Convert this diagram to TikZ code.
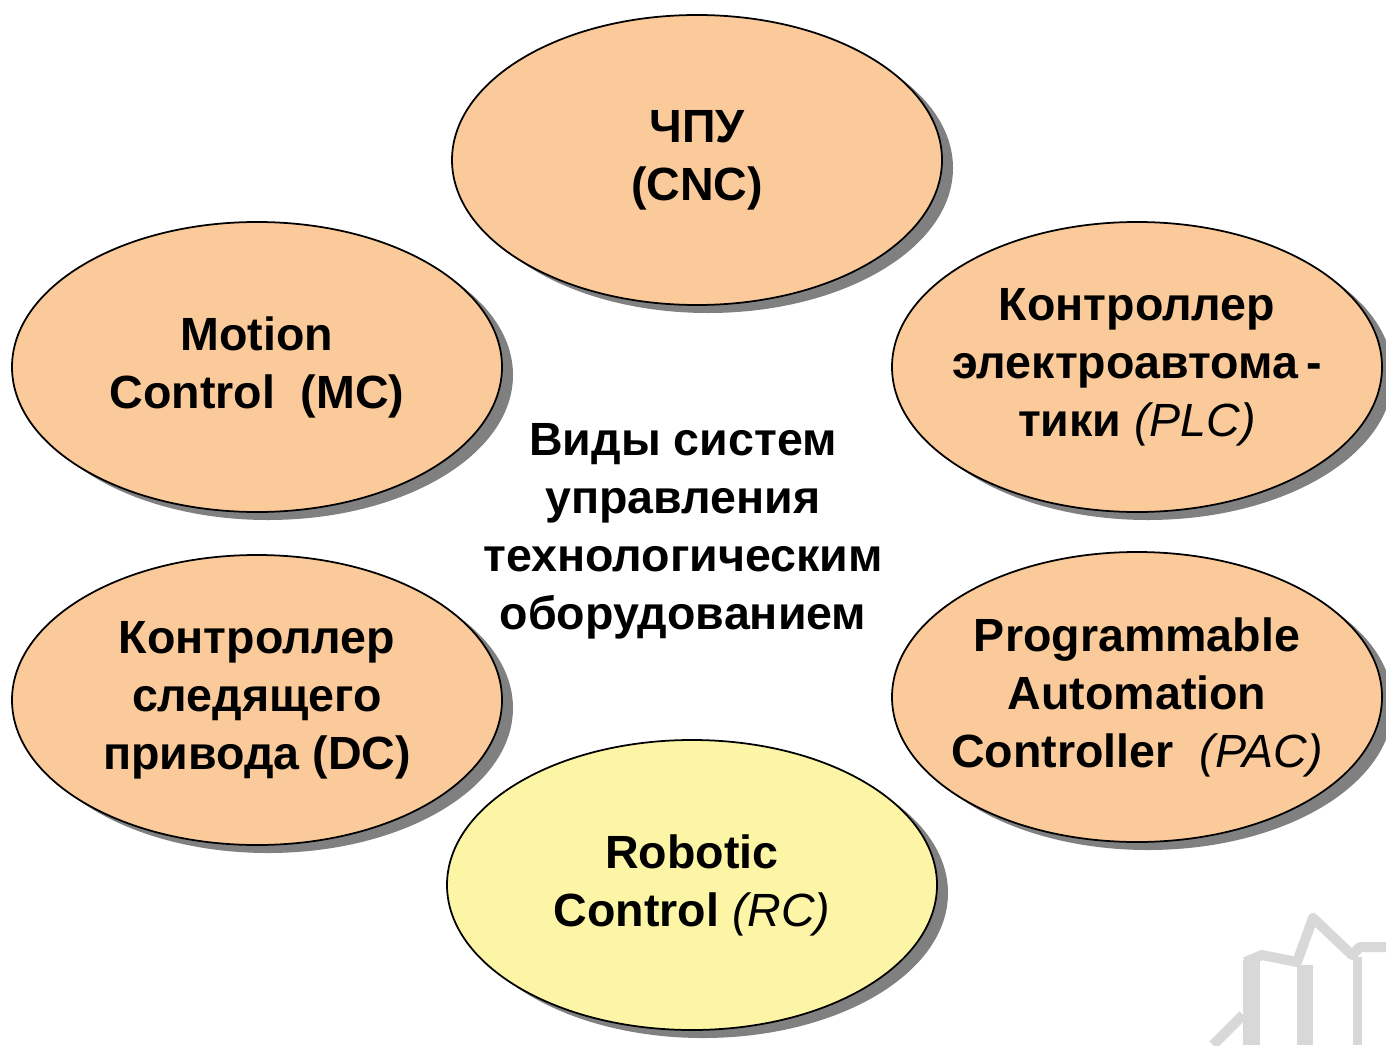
\documentclass[tikz,border=0pt]{standalone}
\usepackage{fontspec}
\setmainfont{Liberation Sans}
\usetikzlibrary{shapes.geometric,shadows}

\definecolor{peach}{RGB}{250,202,155}
\definecolor{lemon}{RGB}{251,245,165}
\definecolor{logogray}{RGB}{216,216,216}

\tikzset{
  oval/.style={ellipse, draw=black, line width=1pt, fill=peach,
    minimum width=9.8cm, minimum height=5.8cm,
    drop shadow={shadow xshift=0.22cm, shadow yshift=-0.16cm, fill=black!50, opacity=1}},
  caption/.style={align=center, font=\fontsize{26.5}{33}\selectfont\bfseries},
}

\begin{document}
\begin{tikzpicture}
            \useasboundingbox (0,0) rectangle (27.72,-20.9);

            % logo in the corner
            \fill [logogray] (24.86,-19.2) rectangle (25.2,-20.9);
            \fill [logogray] (25.94,-19.3) rectangle (26.26,-20.9);
            \fill [logogray] (27.06,-19.14) rectangle (27.24,-20.9);
            \draw [logogray, line width=0.2cm, line join=round]
                (24.9,-19.24) -- (25.24,-19.1) -- (25.94,-19.24) -- (26.26,-18.36)
                -- (27.04,-19.1) -- (27.2,-18.94) -- (27.72,-18.94);
            \draw [logogray, line width=0.2cm] (24.26,-20.9) -- (24.86,-20.3);

            \node [oval] (cnc) at (13.94,-3.2) {};
            \node [oval] (mc) at (5.14,-7.34) {};
            \node [oval] (plc) at (22.74,-7.34) {};
            \node [oval] (dc) at (5.14,-14.0) {};
            \node [oval] (pac) at (22.74,-13.94) {};
            \node [oval, fill=lemon] (rc) at (13.84,-17.7) {};

            \node [caption] (cnc-t) at (cnc) {ЧПУ\\(CNC)};
            \node [caption] (mc-t) at (mc) {Motion\\Control\ \ (MC)};
            \node [caption] (plc-t) at (plc) {Контроллер\\электроавтома\,-\\тики {\mdseries\itshape (PLC)}};
            \node [caption] (dc-t) at (dc) {Контроллер\\следящего\\привода (DC)};
            \node [caption] (pac-t) at (pac) {Programmable\\Automation\\Controller\ \ {\mdseries\itshape (PAC)}};
            \node [caption] (rc-t) at (rc) {Robotic\\Control {\mdseries\itshape (RC)}};

            \node [caption] (kinds) at (13.66,-10.62) {Виды систем\\управления\\технологическим\\оборудованием};
\end{tikzpicture}
\end{document}
